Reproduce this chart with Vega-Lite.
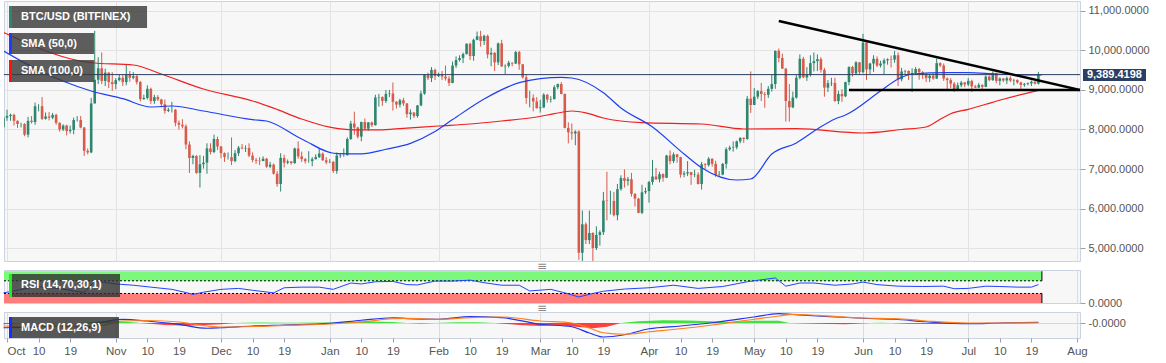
{
"$schema":"https://vega.github.io/schema/vega-lite/v6.json",
"background":"#ffffff",
"padding":0,
"spacing":9,
"bounds":"flush",
"config":{
 "view":{"stroke":"#cbd2e2","fill":"#f7f7f7"},
 "axis":{"labelFont":"Liberation Sans","labelFontSize":11,"labelColor":"#555555","gridColor":"#e3e3e3","tickColor":"#9aa0aa","domain":false,"titleOpacity":0,"titleFontSize":1,"titlePadding":0,"labelOverlap":false}
},
"datasets":{
"ohlc":[
{"d":"2019-09-30","o":8060,"h":8330,"l":7720,"c":8300},
{"d":"2019-10-01","o":8300,"h":8500,"l":8220,"c":8340},
{"d":"2019-10-02","o":8340,"h":8400,"l":8220,"c":8370},
{"d":"2019-10-03","o":8370,"h":8400,"l":8100,"c":8220},
{"d":"2019-10-04","o":8220,"h":8230,"l":8040,"c":8140},
{"d":"2019-10-05","o":8140,"h":8170,"l":8050,"c":8140},
{"d":"2019-10-06","o":8140,"h":8160,"l":7830,"c":7870},
{"d":"2019-10-07","o":7870,"h":8320,"l":7800,"c":8220},
{"d":"2019-10-08","o":8220,"h":8340,"l":8150,"c":8190},
{"d":"2019-10-09","o":8190,"h":8680,"l":8120,"c":8590},
{"d":"2019-10-10","o":8590,"h":8640,"l":8460,"c":8590},
{"d":"2019-10-11","o":8590,"h":8820,"l":8240,"c":8270},
{"d":"2019-10-12","o":8270,"h":8430,"l":8250,"c":8330},
{"d":"2019-10-13","o":8330,"h":8440,"l":8230,"c":8300},
{"d":"2019-10-14","o":8300,"h":8420,"l":8260,"c":8370},
{"d":"2019-10-15","o":8370,"h":8400,"l":8120,"c":8170},
{"d":"2019-10-16","o":8170,"h":8180,"l":7950,"c":8000},
{"d":"2019-10-17","o":8000,"h":8130,"l":7960,"c":8100},
{"d":"2019-10-18","o":8100,"h":8120,"l":7850,"c":7960},
{"d":"2019-10-19","o":7960,"h":8100,"l":7900,"c":7990},
{"d":"2019-10-20","o":7990,"h":8300,"l":7880,"c":8240},
{"d":"2019-10-21","o":8240,"h":8340,"l":8200,"c":8240},
{"d":"2019-10-22","o":8240,"h":8340,"l":8030,"c":8050},
{"d":"2019-10-23","o":8050,"h":8060,"l":7330,"c":7460},
{"d":"2019-10-24","o":7460,"h":7520,"l":7370,"c":7420},
{"d":"2019-10-25","o":7420,"h":8800,"l":7400,"c":8660},
{"d":"2019-10-26","o":8660,"h":10500,"l":8660,"c":9260},
{"d":"2019-10-27","o":9260,"h":9830,"l":9150,"c":9550},
{"d":"2019-10-28","o":9550,"h":9950,"l":9150,"c":9230},
{"d":"2019-10-29","o":9230,"h":9540,"l":9100,"c":9440},
{"d":"2019-10-30","o":9440,"h":9450,"l":9050,"c":9200},
{"d":"2019-10-31","o":9200,"h":9450,"l":8980,"c":9150},
{"d":"2019-11-01","o":9150,"h":9300,"l":9020,"c":9250},
{"d":"2019-11-02","o":9250,"h":9400,"l":9220,"c":9310},
{"d":"2019-11-03","o":9310,"h":9380,"l":9100,"c":9200},
{"d":"2019-11-04","o":9200,"h":9660,"l":9120,"c":9400},
{"d":"2019-11-05","o":9400,"h":9480,"l":9210,"c":9310},
{"d":"2019-11-06","o":9310,"h":9450,"l":9270,"c":9350},
{"d":"2019-11-07","o":9350,"h":9380,"l":9140,"c":9200},
{"d":"2019-11-08","o":9200,"h":9230,"l":8710,"c":8770},
{"d":"2019-11-09","o":8770,"h":8880,"l":8750,"c":8800},
{"d":"2019-11-10","o":8800,"h":9120,"l":8760,"c":9030},
{"d":"2019-11-11","o":9030,"h":9060,"l":8650,"c":8720},
{"d":"2019-11-12","o":8720,"h":8880,"l":8650,"c":8820},
{"d":"2019-11-13","o":8820,"h":8870,"l":8720,"c":8760},
{"d":"2019-11-14","o":8760,"h":8780,"l":8560,"c":8640},
{"d":"2019-11-15","o":8640,"h":8760,"l":8400,"c":8470},
{"d":"2019-11-16","o":8470,"h":8550,"l":8440,"c":8500},
{"d":"2019-11-17","o":8500,"h":8700,"l":8430,"c":8500},
{"d":"2019-11-18","o":8500,"h":8520,"l":8080,"c":8170},
{"d":"2019-11-19","o":8170,"h":8230,"l":8000,"c":8120},
{"d":"2019-11-20","o":8120,"h":8260,"l":8030,"c":8080},
{"d":"2019-11-21","o":8080,"h":8130,"l":7500,"c":7620},
{"d":"2019-11-22","o":7620,"h":7700,"l":6900,"c":7280},
{"d":"2019-11-23","o":7280,"h":7360,"l":7120,"c":7330},
{"d":"2019-11-24","o":7330,"h":7350,"l":6880,"c":6900},
{"d":"2019-11-25","o":6900,"h":7350,"l":6530,"c":7120},
{"d":"2019-11-26","o":7120,"h":7330,"l":7010,"c":7160},
{"d":"2019-11-27","o":7160,"h":7650,"l":6880,"c":7520},
{"d":"2019-11-28","o":7520,"h":7650,"l":7370,"c":7430},
{"d":"2019-11-29","o":7430,"h":7870,"l":7400,"c":7760},
{"d":"2019-11-30","o":7760,"h":7820,"l":7480,"c":7570},
{"d":"2019-12-01","o":7570,"h":7580,"l":7270,"c":7400},
{"d":"2019-12-02","o":7400,"h":7420,"l":7180,"c":7300},
{"d":"2019-12-03","o":7300,"h":7420,"l":7240,"c":7300},
{"d":"2019-12-04","o":7300,"h":7800,"l":7100,"c":7200},
{"d":"2019-12-05","o":7200,"h":7480,"l":7170,"c":7400},
{"d":"2019-12-06","o":7400,"h":7580,"l":7330,"c":7540},
{"d":"2019-12-07","o":7540,"h":7630,"l":7500,"c":7520},
{"d":"2019-12-08","o":7520,"h":7600,"l":7430,"c":7530},
{"d":"2019-12-09","o":7530,"h":7650,"l":7300,"c":7340},
{"d":"2019-12-10","o":7340,"h":7420,"l":7170,"c":7230},
{"d":"2019-12-11","o":7230,"h":7280,"l":7130,"c":7210},
{"d":"2019-12-12","o":7210,"h":7300,"l":7100,"c":7200},
{"d":"2019-12-13","o":7200,"h":7320,"l":7200,"c":7260},
{"d":"2019-12-14","o":7260,"h":7280,"l":7030,"c":7060},
{"d":"2019-12-15","o":7060,"h":7180,"l":7020,"c":7110},
{"d":"2019-12-16","o":7110,"h":7140,"l":6860,"c":6880},
{"d":"2019-12-17","o":6880,"h":6950,"l":6550,"c":6620},
{"d":"2019-12-18","o":6620,"h":7400,"l":6430,"c":7280},
{"d":"2019-12-19","o":7280,"h":7360,"l":7040,"c":7160},
{"d":"2019-12-20","o":7160,"h":7240,"l":7120,"c":7190},
{"d":"2019-12-21","o":7190,"h":7200,"l":7110,"c":7150},
{"d":"2019-12-22","o":7150,"h":7540,"l":7130,"c":7520},
{"d":"2019-12-23","o":7520,"h":7700,"l":7260,"c":7320},
{"d":"2019-12-24","o":7320,"h":7440,"l":7180,"c":7250},
{"d":"2019-12-25","o":7250,"h":7280,"l":7140,"c":7200},
{"d":"2019-12-26","o":7200,"h":7450,"l":7160,"c":7200},
{"d":"2019-12-27","o":7200,"h":7300,"l":7070,"c":7250},
{"d":"2019-12-28","o":7250,"h":7370,"l":7240,"c":7300},
{"d":"2019-12-29","o":7300,"h":7530,"l":7280,"c":7390},
{"d":"2019-12-30","o":7390,"h":7420,"l":7210,"c":7220},
{"d":"2019-12-31","o":7220,"h":7300,"l":7120,"c":7170},
{"d":"2020-01-01","o":7170,"h":7250,"l":7150,"c":7180},
{"d":"2020-01-02","o":7180,"h":7200,"l":6900,"c":6950},
{"d":"2020-01-03","o":6950,"h":7420,"l":6880,"c":7340},
{"d":"2020-01-04","o":7340,"h":7400,"l":7280,"c":7350},
{"d":"2020-01-05","o":7350,"h":7520,"l":7310,"c":7350},
{"d":"2020-01-06","o":7350,"h":7800,"l":7340,"c":7760},
{"d":"2020-01-07","o":7760,"h":8220,"l":7730,"c":8150},
{"d":"2020-01-08","o":8150,"h":8450,"l":7870,"c":8050},
{"d":"2020-01-09","o":8050,"h":8070,"l":7770,"c":7820},
{"d":"2020-01-10","o":7820,"h":8200,"l":7700,"c":8190},
{"d":"2020-01-11","o":8190,"h":8280,"l":7990,"c":8020},
{"d":"2020-01-12","o":8020,"h":8190,"l":7970,"c":8180},
{"d":"2020-01-13","o":8180,"h":8200,"l":8060,"c":8110},
{"d":"2020-01-14","o":8110,"h":8880,"l":8100,"c":8810},
{"d":"2020-01-15","o":8810,"h":8900,"l":8580,"c":8820},
{"d":"2020-01-16","o":8820,"h":8840,"l":8600,"c":8720},
{"d":"2020-01-17","o":8720,"h":9000,"l":8670,"c":8900},
{"d":"2020-01-18","o":8900,"h":9000,"l":8820,"c":8910},
{"d":"2020-01-19","o":8910,"h":9190,"l":8480,"c":8700},
{"d":"2020-01-20","o":8700,"h":8720,"l":8530,"c":8630},
{"d":"2020-01-21","o":8630,"h":8780,"l":8560,"c":8740},
{"d":"2020-01-22","o":8740,"h":8800,"l":8600,"c":8660},
{"d":"2020-01-23","o":8660,"h":8670,"l":8300,"c":8390},
{"d":"2020-01-24","o":8390,"h":8510,"l":8250,"c":8430},
{"d":"2020-01-25","o":8430,"h":8440,"l":8290,"c":8340},
{"d":"2020-01-26","o":8340,"h":8620,"l":8300,"c":8610},
{"d":"2020-01-27","o":8610,"h":8980,"l":8590,"c":8910},
{"d":"2020-01-28","o":8910,"h":9400,"l":8880,"c":9380},
{"d":"2020-01-29","o":9380,"h":9440,"l":9250,"c":9300},
{"d":"2020-01-30","o":9300,"h":9580,"l":9200,"c":9510},
{"d":"2020-01-31","o":9510,"h":9540,"l":9250,"c":9350},
{"d":"2020-02-01","o":9350,"h":9440,"l":9330,"c":9390},
{"d":"2020-02-02","o":9390,"h":9480,"l":9250,"c":9340},
{"d":"2020-02-03","o":9340,"h":9620,"l":9240,"c":9290},
{"d":"2020-02-04","o":9290,"h":9350,"l":9100,"c":9180},
{"d":"2020-02-05","o":9180,"h":9720,"l":9170,"c":9620},
{"d":"2020-02-06","o":9620,"h":9850,"l":9560,"c":9760},
{"d":"2020-02-07","o":9760,"h":9880,"l":9720,"c":9810},
{"d":"2020-02-08","o":9810,"h":9950,"l":9680,"c":9910},
{"d":"2020-02-09","o":9910,"h":10180,"l":9900,"c":10170},
{"d":"2020-02-10","o":10170,"h":10200,"l":9760,"c":9860},
{"d":"2020-02-11","o":9860,"h":10300,"l":9740,"c":10270},
{"d":"2020-02-12","o":10270,"h":10480,"l":10260,"c":10360},
{"d":"2020-02-13","o":10360,"h":10500,"l":10100,"c":10240},
{"d":"2020-02-14","o":10240,"h":10400,"l":10140,"c":10370},
{"d":"2020-02-15","o":10370,"h":10400,"l":9800,"c":9900},
{"d":"2020-02-16","o":9900,"h":10070,"l":9600,"c":9940},
{"d":"2020-02-17","o":9940,"h":9960,"l":9480,"c":9700},
{"d":"2020-02-18","o":9700,"h":10200,"l":9630,"c":10180},
{"d":"2020-02-19","o":10180,"h":10270,"l":9580,"c":9600},
{"d":"2020-02-20","o":9600,"h":9650,"l":9400,"c":9610},
{"d":"2020-02-21","o":9610,"h":9740,"l":9570,"c":9690},
{"d":"2020-02-22","o":9690,"h":9700,"l":9600,"c":9670},
{"d":"2020-02-23","o":9670,"h":9990,"l":9660,"c":9960},
{"d":"2020-02-24","o":9960,"h":9990,"l":9510,"c":9650},
{"d":"2020-02-25","o":9650,"h":9660,"l":9290,"c":9320},
{"d":"2020-02-26","o":9320,"h":9380,"l":8650,"c":8800},
{"d":"2020-02-27","o":8800,"h":8980,"l":8560,"c":8800},
{"d":"2020-02-28","o":8800,"h":8890,"l":8460,"c":8710},
{"d":"2020-02-29","o":8710,"h":8820,"l":8530,"c":8540},
{"d":"2020-03-01","o":8540,"h":8750,"l":8430,"c":8560},
{"d":"2020-03-02","o":8560,"h":8920,"l":8540,"c":8880},
{"d":"2020-03-03","o":8880,"h":8900,"l":8680,"c":8760},
{"d":"2020-03-04","o":8760,"h":8840,"l":8680,"c":8770},
{"d":"2020-03-05","o":8770,"h":9120,"l":8760,"c":9070},
{"d":"2020-03-06","o":9070,"h":9160,"l":9020,"c":9150},
{"d":"2020-03-07","o":9150,"h":9200,"l":8890,"c":8900},
{"d":"2020-03-08","o":8900,"h":8910,"l":8030,"c":8040},
{"d":"2020-03-09","o":8040,"h":8180,"l":7650,"c":7930},
{"d":"2020-03-10","o":7930,"h":8150,"l":7740,"c":7900},
{"d":"2020-03-11","o":7900,"h":7980,"l":7600,"c":7950},
{"d":"2020-03-12","o":7950,"h":7980,"l":4700,"c":4880},
{"d":"2020-03-13","o":4880,"h":5950,"l":3900,"c":5600},
{"d":"2020-03-14","o":5600,"h":5650,"l":5100,"c":5200},
{"d":"2020-03-15","o":5200,"h":5950,"l":5100,"c":5380},
{"d":"2020-03-16","o":5380,"h":5400,"l":4450,"c":5000},
{"d":"2020-03-17","o":5000,"h":5550,"l":4950,"c":5330},
{"d":"2020-03-18","o":5330,"h":5450,"l":5060,"c":5400},
{"d":"2020-03-19","o":5400,"h":6420,"l":5330,"c":6200},
{"d":"2020-03-20","o":6200,"h":6930,"l":5700,"c":6190},
{"d":"2020-03-21","o":6190,"h":6450,"l":5850,"c":6190},
{"d":"2020-03-22","o":6190,"h":6420,"l":5800,"c":5830},
{"d":"2020-03-23","o":5830,"h":6620,"l":5700,"c":6490},
{"d":"2020-03-24","o":6490,"h":6840,"l":6450,"c":6770},
{"d":"2020-03-25","o":6770,"h":6990,"l":6530,"c":6700},
{"d":"2020-03-26","o":6700,"h":6800,"l":6580,"c":6740},
{"d":"2020-03-27","o":6740,"h":6900,"l":6300,"c":6370},
{"d":"2020-03-28","o":6370,"h":6390,"l":6050,"c":6250},
{"d":"2020-03-29","o":6250,"h":6270,"l":5880,"c":5890},
{"d":"2020-03-30","o":5890,"h":6600,"l":5860,"c":6410},
{"d":"2020-03-31","o":6410,"h":6530,"l":6370,"c":6440},
{"d":"2020-04-01","o":6440,"h":6700,"l":6150,"c":6670},
{"d":"2020-04-02","o":6670,"h":7230,"l":6600,"c":6810},
{"d":"2020-04-03","o":6810,"h":7030,"l":6720,"c":6740},
{"d":"2020-04-04","o":6740,"h":6930,"l":6660,"c":6870},
{"d":"2020-04-05","o":6870,"h":6890,"l":6680,"c":6780},
{"d":"2020-04-06","o":6780,"h":7360,"l":6770,"c":7340},
{"d":"2020-04-07","o":7340,"h":7470,"l":7120,"c":7200},
{"d":"2020-04-08","o":7200,"h":7420,"l":7150,"c":7370},
{"d":"2020-04-09","o":7370,"h":7380,"l":7160,"c":7300},
{"d":"2020-04-10","o":7300,"h":7310,"l":6780,"c":6860},
{"d":"2020-04-11","o":6860,"h":6950,"l":6790,"c":6890},
{"d":"2020-04-12","o":6890,"h":7200,"l":6820,"c":6920},
{"d":"2020-04-13","o":6920,"h":6930,"l":6600,"c":6850},
{"d":"2020-04-14","o":6850,"h":6980,"l":6790,"c":6860},
{"d":"2020-04-15","o":6860,"h":6920,"l":6610,"c":6620},
{"d":"2020-04-16","o":6620,"h":7180,"l":6480,"c":7120},
{"d":"2020-04-17","o":7120,"h":7150,"l":7000,"c":7100},
{"d":"2020-04-18","o":7100,"h":7300,"l":7060,"c":7260},
{"d":"2020-04-19","o":7260,"h":7270,"l":7060,"c":7130},
{"d":"2020-04-20","o":7130,"h":7210,"l":6800,"c":6850},
{"d":"2020-04-21","o":6850,"h":6950,"l":6800,"c":6860},
{"d":"2020-04-22","o":6860,"h":7150,"l":6840,"c":7130},
{"d":"2020-04-23","o":7130,"h":7550,"l":7010,"c":7500},
{"d":"2020-04-24","o":7500,"h":7590,"l":7460,"c":7540},
{"d":"2020-04-25","o":7540,"h":7700,"l":7440,"c":7550},
{"d":"2020-04-26","o":7550,"h":7720,"l":7500,"c":7700},
{"d":"2020-04-27","o":7700,"h":7800,"l":7650,"c":7790},
{"d":"2020-04-28","o":7790,"h":7800,"l":7660,"c":7760},
{"d":"2020-04-29","o":7760,"h":8850,"l":7740,"c":8780},
{"d":"2020-04-30","o":8780,"h":9470,"l":8420,"c":8620},
{"d":"2020-05-01","o":8620,"h":9050,"l":8620,"c":8830},
{"d":"2020-05-02","o":8830,"h":9000,"l":8770,"c":8970},
{"d":"2020-05-03","o":8970,"h":9180,"l":8720,"c":8900},
{"d":"2020-05-04","o":8900,"h":8950,"l":8550,"c":8880},
{"d":"2020-05-05","o":8880,"h":9100,"l":8800,"c":9030},
{"d":"2020-05-06","o":9030,"h":9380,"l":8960,"c":9150},
{"d":"2020-05-07","o":9150,"h":10000,"l":9030,"c":9990},
{"d":"2020-05-08","o":9990,"h":10050,"l":9700,"c":9810},
{"d":"2020-05-09","o":9810,"h":9920,"l":9540,"c":9540},
{"d":"2020-05-10","o":9540,"h":9560,"l":8200,"c":8720},
{"d":"2020-05-11","o":8720,"h":9150,"l":8200,"c":8560},
{"d":"2020-05-12","o":8560,"h":8960,"l":8540,"c":8810},
{"d":"2020-05-13","o":8810,"h":9380,"l":8780,"c":9310},
{"d":"2020-05-14","o":9310,"h":9900,"l":9270,"c":9790},
{"d":"2020-05-15","o":9790,"h":9840,"l":9300,"c":9320},
{"d":"2020-05-16","o":9320,"h":9580,"l":9230,"c":9380},
{"d":"2020-05-17","o":9380,"h":9880,"l":9340,"c":9680},
{"d":"2020-05-18","o":9680,"h":9950,"l":9470,"c":9730},
{"d":"2020-05-19","o":9730,"h":9900,"l":9480,"c":9780},
{"d":"2020-05-20","o":9780,"h":9830,"l":9440,"c":9510},
{"d":"2020-05-21","o":9510,"h":9560,"l":8830,"c":9060},
{"d":"2020-05-22","o":9060,"h":9250,"l":8950,"c":9170},
{"d":"2020-05-23","o":9170,"h":9310,"l":9100,"c":9180},
{"d":"2020-05-24","o":9180,"h":9310,"l":8700,"c":8720},
{"d":"2020-05-25","o":8720,"h":8980,"l":8640,"c":8900},
{"d":"2020-05-26","o":8900,"h":9020,"l":8700,"c":8840},
{"d":"2020-05-27","o":8840,"h":9210,"l":8820,"c":9200},
{"d":"2020-05-28","o":9200,"h":9600,"l":9120,"c":9580},
{"d":"2020-05-29","o":9580,"h":9610,"l":9340,"c":9420},
{"d":"2020-05-30","o":9420,"h":9730,"l":9380,"c":9700},
{"d":"2020-05-31","o":9700,"h":9710,"l":9380,"c":9450},
{"d":"2020-06-01","o":9450,"h":10420,"l":9420,"c":10200},
{"d":"2020-06-02","o":10200,"h":10240,"l":9250,"c":9520},
{"d":"2020-06-03","o":9520,"h":9690,"l":9400,"c":9670},
{"d":"2020-06-04","o":9670,"h":9880,"l":9460,"c":9790},
{"d":"2020-06-05","o":9790,"h":9850,"l":9580,"c":9620},
{"d":"2020-06-06","o":9620,"h":9740,"l":9570,"c":9670},
{"d":"2020-06-07","o":9670,"h":9800,"l":9400,"c":9750},
{"d":"2020-06-08","o":9750,"h":9800,"l":9640,"c":9780},
{"d":"2020-06-09","o":9780,"h":9870,"l":9570,"c":9770},
{"d":"2020-06-10","o":9770,"h":9990,"l":9690,"c":9880},
{"d":"2020-06-11","o":9880,"h":9950,"l":9100,"c":9270},
{"d":"2020-06-12","o":9270,"h":9560,"l":9220,"c":9470},
{"d":"2020-06-13","o":9470,"h":9510,"l":9380,"c":9480},
{"d":"2020-06-14","o":9480,"h":9500,"l":9250,"c":9390},
{"d":"2020-06-15","o":9390,"h":9550,"l":8950,"c":9430},
{"d":"2020-06-16","o":9430,"h":9580,"l":9380,"c":9530},
{"d":"2020-06-17","o":9530,"h":9560,"l":9260,"c":9450},
{"d":"2020-06-18","o":9450,"h":9480,"l":9280,"c":9380},
{"d":"2020-06-19","o":9380,"h":9430,"l":9200,"c":9300},
{"d":"2020-06-20","o":9300,"h":9400,"l":9200,"c":9360},
{"d":"2020-06-21","o":9360,"h":9420,"l":9260,"c":9290},
{"d":"2020-06-22","o":9290,"h":9800,"l":9280,"c":9680},
{"d":"2020-06-23","o":9680,"h":9700,"l":9580,"c":9620},
{"d":"2020-06-24","o":9620,"h":9670,"l":9230,"c":9290},
{"d":"2020-06-25","o":9290,"h":9320,"l":9000,"c":9250},
{"d":"2020-06-26","o":9250,"h":9300,"l":9050,"c":9160},
{"d":"2020-06-27","o":9160,"h":9200,"l":8950,"c":9010},
{"d":"2020-06-28","o":9010,"h":9190,"l":9000,"c":9120},
{"d":"2020-06-29","o":9120,"h":9230,"l":9070,"c":9190},
{"d":"2020-06-30","o":9190,"h":9200,"l":9070,"c":9140},
{"d":"2020-07-01","o":9140,"h":9300,"l":9100,"c":9230},
{"d":"2020-07-02","o":9230,"h":9260,"l":8950,"c":9090},
{"d":"2020-07-03","o":9090,"h":9130,"l":9050,"c":9060},
{"d":"2020-07-04","o":9060,"h":9180,"l":9050,"c":9130},
{"d":"2020-07-05","o":9130,"h":9140,"l":8970,"c":9080},
{"d":"2020-07-06","o":9080,"h":9370,"l":9070,"c":9340},
{"d":"2020-07-07","o":9340,"h":9370,"l":9220,"c":9250},
{"d":"2020-07-08","o":9250,"h":9470,"l":9230,"c":9430},
{"d":"2020-07-09","o":9430,"h":9440,"l":9170,"c":9230},
{"d":"2020-07-10","o":9230,"h":9320,"l":9120,"c":9290},
{"d":"2020-07-11","o":9290,"h":9300,"l":9200,"c":9240},
{"d":"2020-07-12","o":9240,"h":9340,"l":9150,"c":9300},
{"d":"2020-07-13","o":9300,"h":9350,"l":9200,"c":9240},
{"d":"2020-07-14","o":9240,"h":9280,"l":9120,"c":9250},
{"d":"2020-07-15","o":9250,"h":9270,"l":9160,"c":9190},
{"d":"2020-07-16","o":9190,"h":9210,"l":9000,"c":9130},
{"d":"2020-07-17","o":9130,"h":9180,"l":9080,"c":9150},
{"d":"2020-07-18","o":9150,"h":9190,"l":9120,"c":9170},
{"d":"2020-07-19","o":9170,"h":9240,"l":9100,"c":9210},
{"d":"2020-07-20","o":9210,"h":9220,"l":9140,"c":9160},
{"d":"2020-07-21","o":9160,"h":9460,"l":9140,"c":9390}
],
"sma50":[
{"d":"2019-09-30","v":9987},{"d":"2019-10-10","v":9500},{"d":"2019-10-25","v":8975},{"d":"2019-11-03","v":8780},
{"d":"2019-11-11","v":8570},{"d":"2019-11-17","v":8595},{"d":"2019-11-26","v":8468},{"d":"2019-12-10","v":8250},
{"d":"2019-12-14","v":8215},{"d":"2019-12-24","v":7760},{"d":"2020-01-03","v":7387},{"d":"2020-01-10","v":7385},
{"d":"2020-01-17","v":7500},{"d":"2020-01-24","v":7650},{"d":"2020-01-31","v":7950},{"d":"2020-02-05","v":8250},
{"d":"2020-02-14","v":8772},{"d":"2020-02-24","v":9185},{"d":"2020-03-01","v":9290},{"d":"2020-03-07","v":9320},
{"d":"2020-03-10","v":9304},{"d":"2020-03-19","v":8932},{"d":"2020-03-24","v":8544},{"d":"2020-04-02","v":8063},
{"d":"2020-04-11","v":7380},{"d":"2020-04-16","v":7033},{"d":"2020-04-26","v":6722},{"d":"2020-04-30","v":6747},
{"d":"2020-05-06","v":7380},{"d":"2020-05-13","v":7660},{"d":"2020-05-19","v":8013},{"d":"2020-05-24","v":8266},
{"d":"2020-05-27","v":8367},{"d":"2020-06-06","v":8975},{"d":"2020-06-11","v":9278},{"d":"2020-06-15","v":9405},
{"d":"2020-06-25","v":9438},{"d":"2020-07-01","v":9438},{"d":"2020-07-09","v":9405},{"d":"2020-07-22","v":9380}
],
"sma100":[
{"d":"2019-09-30","v":10460},{"d":"2019-10-25","v":9690},{"d":"2019-11-06","v":9633},{"d":"2019-11-14","v":9405},
{"d":"2019-11-26","v":9025},{"d":"2019-12-10","v":8722},{"d":"2019-12-16","v":8540},{"d":"2019-12-24","v":8266},
{"d":"2020-01-01","v":8060},{"d":"2020-01-08","v":7990},{"d":"2020-01-15","v":7990},{"d":"2020-01-22","v":8030},
{"d":"2020-02-01","v":8089},{"d":"2020-02-10","v":8139},{"d":"2020-02-19","v":8215},{"d":"2020-02-29","v":8316},
{"d":"2020-03-05","v":8400},{"d":"2020-03-10","v":8468},{"d":"2020-03-14","v":8420},{"d":"2020-03-19","v":8291},
{"d":"2020-03-30","v":8173},{"d":"2020-04-16","v":8139},{"d":"2020-04-28","v":8013},{"d":"2020-05-13","v":8020},
{"d":"2020-06-01","v":7911},{"d":"2020-06-12","v":8000},{"d":"2020-06-19","v":8063},{"d":"2020-06-23","v":8258},
{"d":"2020-06-26","v":8400},{"d":"2020-07-01","v":8511},{"d":"2020-07-06","v":8638},{"d":"2020-07-11","v":8765},
{"d":"2020-07-21","v":8992}
],
"tri":[
{"d":"2020-05-08","v":10747,"g":"a"},{"d":"2020-08-02","v":8997,"g":"a"},
{"d":"2020-05-28","v":9000,"g":"b"},{"d":"2020-08-02","v":9000,"g":"b"}
],
"rsi":[
{"d":"2019-09-30","v":32},{"d":"2019-10-04","v":40},{"d":"2019-10-09","v":52},{"d":"2019-10-14","v":48},
{"d":"2019-10-18","v":42},{"d":"2019-10-23","v":33},{"d":"2019-10-26","v":68},{"d":"2019-10-29","v":65},
{"d":"2019-11-01","v":60},{"d":"2019-11-06","v":56},{"d":"2019-11-11","v":50},{"d":"2019-11-17","v":43},
{"d":"2019-11-21","v":33},{"d":"2019-11-23","v":27},{"d":"2019-11-26","v":34},{"d":"2019-12-01","v":43},
{"d":"2019-12-06","v":46},{"d":"2019-12-10","v":40},{"d":"2019-12-16","v":32},{"d":"2019-12-19","v":48},
{"d":"2019-12-24","v":50},{"d":"2019-12-29","v":50},{"d":"2020-01-02","v":43},{"d":"2020-01-07","v":63},
{"d":"2020-01-10","v":60},{"d":"2020-01-14","v":67},{"d":"2020-01-19","v":68},{"d":"2020-01-23","v":58},
{"d":"2020-01-26","v":57},{"d":"2020-01-31","v":69},{"d":"2020-02-05","v":69},{"d":"2020-02-10","v":72},
{"d":"2020-02-14","v":64},{"d":"2020-02-19","v":56},{"d":"2020-02-24","v":56},{"d":"2020-02-27","v":38},
{"d":"2020-03-04","v":43},{"d":"2020-03-08","v":32},{"d":"2020-03-12","v":19},{"d":"2020-03-16","v":30},
{"d":"2020-03-19","v":37},{"d":"2020-03-25","v":44},{"d":"2020-04-01","v":48},{"d":"2020-04-08","v":56},
{"d":"2020-04-15","v":46},{"d":"2020-04-22","v":52},{"d":"2020-04-29","v":67},{"d":"2020-05-07","v":79},
{"d":"2020-05-10","v":53},{"d":"2020-05-14","v":63},{"d":"2020-05-18","v":63},{"d":"2020-05-24","v":56},
{"d":"2020-05-29","v":60},{"d":"2020-06-01","v":66},{"d":"2020-06-05","v":58},{"d":"2020-06-11","v":53},
{"d":"2020-06-18","v":52},{"d":"2020-06-24","v":53},{"d":"2020-06-27","v":45},{"d":"2020-07-01","v":46},
{"d":"2020-07-06","v":53},{"d":"2020-07-10","v":52},{"d":"2020-07-15","v":50},{"d":"2020-07-19","v":50},
{"d":"2020-07-21","v":58}
],
"macd":[
{"d":"2019-09-30","m":-190,"s":-120},{"d":"2019-10-06","m":-170,"s":-150},{"d":"2019-10-13","m":-120,"s":-140},
{"d":"2019-10-20","m":-140,"s":-135},{"d":"2019-10-24","m":-170,"s":-145},{"d":"2019-10-28","m":20,"s":-100},
{"d":"2019-11-03","m":145,"s":80},{"d":"2019-11-10","m":80,"s":100},{"d":"2019-11-19","m":-55,"s":40},
{"d":"2019-11-27","m":-210,"s":-120},{"d":"2019-12-01","m":-190,"s":-160},{"d":"2019-12-10","m":-120,"s":-140},
{"d":"2019-12-19","m":-80,"s":-95},{"d":"2020-01-01","m":-15,"s":-40},{"d":"2020-01-10","m":110,"s":40},
{"d":"2020-01-19","m":210,"s":170},{"d":"2020-01-23","m":175,"s":185},{"d":"2020-02-01","m":150,"s":150},
{"d":"2020-02-10","m":255,"s":215},{"d":"2020-02-19","m":215,"s":240},{"d":"2020-03-01","m":-50,"s":80},
{"d":"2020-03-10","m":-150,"s":0},{"d":"2020-03-15","m":-400,"s":-200},{"d":"2020-03-19","m":-560,"s":-390},
{"d":"2020-03-25","m":-470,"s":-450},{"d":"2020-04-01","m":-230,"s":-350},{"d":"2020-04-10","m":-120,"s":-230},
{"d":"2020-04-19","m":10,"s":-80},{"d":"2020-05-01","m":240,"s":150},{"d":"2020-05-08","m":375,"s":280},
{"d":"2020-05-12","m":340,"s":345},{"d":"2020-05-19","m":280,"s":305},{"d":"2020-06-01","m":190,"s":200},
{"d":"2020-06-10","m":150,"s":175},{"d":"2020-06-19","m":50,"s":80},{"d":"2020-07-01","m":-30,"s":0},
{"d":"2020-07-10","m":0,"s":0},{"d":"2020-07-21","m":25,"s":10}
],
"hist":[
{"d":"2019-09-30","h":-50},{"d":"2019-10-05","h":0},{"d":"2019-10-22","h":0},{"d":"2019-10-28","h":90},
{"d":"2019-11-04","h":50},{"d":"2019-11-08","h":0},{"d":"2019-11-15","h":-80},{"d":"2019-11-22","h":-110},
{"d":"2019-12-01","h":-50},{"d":"2019-12-05","h":0},{"d":"2019-12-12","h":20},{"d":"2019-12-20","h":15},
{"d":"2020-01-01","h":25},{"d":"2020-01-10","h":70},{"d":"2020-01-19","h":40},{"d":"2020-01-23","h":0},
{"d":"2020-01-27","h":-20},{"d":"2020-01-31","h":0},{"d":"2020-02-06","h":30},{"d":"2020-02-12","h":35},
{"d":"2020-02-17","h":0},{"d":"2020-02-24","h":-80},{"d":"2020-03-01","h":-120},{"d":"2020-03-06","h":-90},
{"d":"2020-03-12","h":-160},{"d":"2020-03-16","h":-210},{"d":"2020-03-20","h":-150},{"d":"2020-03-24","h":0},
{"d":"2020-03-29","h":70},{"d":"2020-04-05","h":110},{"d":"2020-04-12","h":100},{"d":"2020-04-19","h":70},
{"d":"2020-04-24","h":40},{"d":"2020-05-01","h":90},{"d":"2020-05-08","h":90},{"d":"2020-05-11","h":0},
{"d":"2020-05-19","h":-25},{"d":"2020-05-27","h":-50},{"d":"2020-06-03","h":0},{"d":"2020-06-06","h":15},
{"d":"2020-06-09","h":0},{"d":"2020-06-14","h":-25},{"d":"2020-06-22","h":-35},{"d":"2020-07-01","h":-25},
{"d":"2020-07-08","h":0},{"d":"2020-07-21","h":12}
]
},
"vconcat":[
{
 "width":1076,"height":260,
 "data":{"values":[{}]},
 "layer":[
  {"data":{"name":"ohlc"},
   "mark":{"type":"rule","strokeWidth":1,"clip":true},
   "encoding":{
    "x":{"field":"d","type":"temporal","title":null,
     "scale":{"type":"utc","domain":[{"year":2019,"month":9,"date":30,"hours":3,"minutes":28,"utc":true},{"year":2020,"month":8,"date":1,"hours":20,"minutes":31,"utc":true}],"nice":false,"padding":0},
     "axis":{"title":null,"tickCount":60,"values":[{"year":2019,"month":10,"date":1,"utc":true},{"year":2019,"month":11,"date":1,"utc":true},{"year":2019,"month":12,"date":1,"utc":true},{"year":2020,"month":1,"date":1,"utc":true},{"year":2020,"month":2,"date":1,"utc":true},{"year":2020,"month":3,"date":1,"utc":true},{"year":2020,"month":4,"date":1,"utc":true},{"year":2020,"month":5,"date":1,"utc":true},{"year":2020,"month":6,"date":1,"utc":true},{"year":2020,"month":7,"date":1,"utc":true},{"year":2020,"month":8,"date":1,"utc":true}],"labels":false,"ticks":false,"grid":true}},
    "y":{"field":"l","type":"quantitative","title":null,
     "scale":{"domain":[4671,11253],"nice":false,"zero":false,"padding":0},
     "axis":{"title":null,"tickCount":20,"orient":"right","values":[5000,6000,7000,8000,9000,10000,11000],"format":",.4f","tickSize":5,"labelPadding":3,"grid":true}},
    "y2":{"field":"h"},
    "color":{"condition":{"test":"datum.c >= datum.o","value":"#2e866e"},"value":"#d85a4a"}
   }},
  {"data":{"name":"ohlc"},
   "mark":{"type":"bar","width":2.6,"clip":true},
   "encoding":{
    "x":{"field":"d","type":"temporal","title":null},
    "y":{"field":"o","type":"quantitative","title":null},
    "y2":{"field":"c"},
    "color":{"condition":{"test":"datum.c >= datum.o","value":"#2e866e"},"value":"#d85a4a"}
   }},
  {"data":{"name":"sma100"},
   "mark":{"type":"line","color":"#ee2020","strokeWidth":1.2,"interpolate":"monotone","clip":true},
   "encoding":{"x":{"field":"d","type":"temporal","title":null},"y":{"field":"v","type":"quantitative","title":null}}},
  {"data":{"name":"sma50"},
   "mark":{"type":"line","color":"#2040f0","strokeWidth":1.2,"interpolate":"monotone","clip":true},
   "encoding":{"x":{"field":"d","type":"temporal","title":null},"y":{"field":"v","type":"quantitative","title":null}}},
  {"mark":{"type":"rule","color":"#2b3d5e","strokeWidth":1},
   "encoding":{"y":{"datum":9389.4198,"title":null}}},
  {"data":{"name":"tri"},
   "mark":{"type":"line","color":"#000000","strokeWidth":2.5,"clip":true},
   "encoding":{"x":{"field":"d","type":"temporal","title":null},"y":{"field":"v","type":"quantitative","title":null},"detail":{"field":"g"}}},
  {"mark":{"type":"rect","fill":"#3a3a3a","opacity":0.82},
   "encoding":{"x":{"datum":{"year":2019,"month":10,"date":1,"hours":14,"utc":true},"type":"temporal","title":null},"x2":{"datum":{"year":2019,"month":11,"date":9,"hours":22,"utc":true}},"y":{"datum":11126,"title":null},"y2":{"datum":10570}}},
  {"mark":{"type":"rect","fill":"#3a3a3a","opacity":0.82},
   "encoding":{"x":{"datum":{"year":2019,"month":10,"date":1,"hours":14,"utc":true},"type":"temporal","title":null},"x2":{"datum":{"year":2019,"month":10,"date":25,"hours":19,"utc":true}},"y":{"datum":10443,"title":null},"y2":{"datum":9911}}},
  {"mark":{"type":"rect","fill":"#3a3a3a","opacity":0.82},
   "encoding":{"x":{"datum":{"year":2019,"month":10,"date":1,"hours":14,"utc":true},"type":"temporal","title":null},"x2":{"datum":{"year":2019,"month":10,"date":25,"hours":19,"utc":true}},"y":{"datum":9759,"title":null},"y2":{"datum":9202}}},
  {"mark":{"type":"rect","fill":"#2e866e"},
   "encoding":{"x":{"datum":{"year":2019,"month":10,"date":1,"hours":14,"utc":true},"type":"temporal","title":null},"x2":{"datum":{"year":2019,"month":10,"date":2,"hours":10,"utc":true}},"y":{"datum":11126,"title":null},"y2":{"datum":10570}}},
  {"mark":{"type":"rect","fill":"#1c3cff"},
   "encoding":{"x":{"datum":{"year":2019,"month":10,"date":1,"hours":14,"utc":true},"type":"temporal","title":null},"x2":{"datum":{"year":2019,"month":10,"date":2,"hours":10,"utc":true}},"y":{"datum":10443,"title":null},"y2":{"datum":9911}}},
  {"mark":{"type":"rect","fill":"#ff1010"},
   "encoding":{"x":{"datum":{"year":2019,"month":10,"date":1,"hours":14,"utc":true},"type":"temporal","title":null},"x2":{"datum":{"year":2019,"month":10,"date":2,"hours":10,"utc":true}},"y":{"datum":9759,"title":null},"y2":{"datum":9202}}},
  {"mark":{"type":"text","align":"left","baseline":"middle","font":"Liberation Sans","fontSize":11,"fontWeight":"bold","fill":"#ffffff"},
   "encoding":{"x":{"datum":{"year":2019,"month":10,"date":5,"utc":true},"type":"temporal","title":null},"y":{"datum":10848,"title":null},"text":{"value":"BTC/USD (BITFINEX)"}}},
  {"mark":{"type":"text","align":"left","baseline":"middle","font":"Liberation Sans","fontSize":11,"fontWeight":"bold","fill":"#ffffff"},
   "encoding":{"x":{"datum":{"year":2019,"month":10,"date":5,"utc":true},"type":"temporal","title":null},"y":{"datum":10177,"title":null},"text":{"value":"SMA (50,0)"}}},
  {"mark":{"type":"text","align":"left","baseline":"middle","font":"Liberation Sans","fontSize":11,"fontWeight":"bold","fill":"#ffffff"},
   "encoding":{"x":{"datum":{"year":2019,"month":10,"date":5,"utc":true},"type":"temporal","title":null},"y":{"datum":9481,"title":null},"text":{"value":"SMA (100,0)"}}},
  {"mark":{"type":"rect","fill":"#2b3f62","clip":false},
   "encoding":{"x":{"datum":{"year":2020,"month":8,"date":2,"hours":17,"utc":true},"type":"temporal","title":null},"x2":{"datum":{"year":2020,"month":8,"date":20,"hours":16,"utc":true}},"y":{"datum":9532,"title":null},"y2":{"datum":9228}}},
  {"mark":{"type":"text","align":"center","baseline":"middle","font":"Liberation Sans","fontSize":11,"fontWeight":"bold","fill":"#ffffff","clip":false},
   "encoding":{"x":{"datum":{"year":2020,"month":8,"date":11,"hours":16,"utc":true},"type":"temporal","title":null},"y":{"datum":9389.4198,"title":null},"text":{"value":"9,389.4198"}}},
  {"mark":{"type":"text","align":"center","baseline":"middle","font":"DejaVu Sans","fontSize":12,"fill":"#8a8a8a","clip":false},
   "encoding":{"x":{"datum":{"year":2020,"month":3,"date":1,"hours":12,"utc":true},"type":"temporal","title":null},"y":{"datum":4532,"title":null},"text":{"value":"≡"}}}
 ]
},
{
 "width":1076,"height":33,
 "data":{"values":[{}]},
 "layer":[
  {"mark":{"type":"rect","fill":"#7cf87c"},
   "encoding":{
    "x":{"datum":{"year":2019,"month":9,"date":30,"hours":3,"minutes":28,"utc":true},"type":"temporal","title":null,
     "scale":{"type":"utc","domain":[{"year":2019,"month":9,"date":30,"hours":3,"minutes":28,"utc":true},{"year":2020,"month":8,"date":1,"hours":20,"minutes":31,"utc":true}],"nice":false,"padding":0},
     "axis":{"title":null,"tickCount":60,"values":[{"year":2019,"month":10,"date":1,"utc":true},{"year":2019,"month":11,"date":1,"utc":true},{"year":2019,"month":12,"date":1,"utc":true},{"year":2020,"month":1,"date":1,"utc":true},{"year":2020,"month":2,"date":1,"utc":true},{"year":2020,"month":3,"date":1,"utc":true},{"year":2020,"month":4,"date":1,"utc":true},{"year":2020,"month":5,"date":1,"utc":true},{"year":2020,"month":6,"date":1,"utc":true},{"year":2020,"month":7,"date":1,"utc":true},{"year":2020,"month":8,"date":1,"utc":true}],"labels":false,"ticks":false,"grid":true,"gridColor":"#dcdcdc"}},
    "x2":{"datum":{"year":2020,"month":7,"date":22,"utc":true}},
    "y":{"datum":70,"type":"quantitative","title":null,"scale":{"domain":[0,104],"nice":false,"zero":false},
     "axis":{"title":null,"orient":"right","values":[0],"format":".4f","tickSize":5,"labelPadding":3,"grid":false}},
    "y2":{"datum":100}}},
  {"mark":{"type":"rect","fill":"#ff7c7c"},
   "encoding":{"x":{"datum":{"year":2019,"month":9,"date":30,"hours":3,"minutes":28,"utc":true},"type":"temporal","title":null},"x2":{"datum":{"year":2020,"month":7,"date":22,"utc":true}},"y":{"datum":0,"title":null},"y2":{"datum":30}}},
  {"mark":{"type":"rule","color":"#000000","strokeWidth":1,"strokeDash":[2,2]},
   "encoding":{"x":{"datum":{"year":2019,"month":9,"date":30,"hours":3,"minutes":28,"utc":true},"type":"temporal","title":null},"x2":{"datum":{"year":2020,"month":7,"date":22,"utc":true}},"y":{"datum":70,"title":null}}},
  {"mark":{"type":"rule","color":"#000000","strokeWidth":1,"strokeDash":[2,2]},
   "encoding":{"x":{"datum":{"year":2019,"month":9,"date":30,"hours":3,"minutes":28,"utc":true},"type":"temporal","title":null},"x2":{"datum":{"year":2020,"month":7,"date":22,"utc":true}},"y":{"datum":30,"title":null}}},
  {"mark":{"type":"rule","color":"#000000","strokeWidth":1},
   "encoding":{"x":{"datum":{"year":2020,"month":7,"date":22,"utc":true},"type":"temporal","title":null},"y":{"datum":70,"title":null},"y2":{"datum":100}}},
  {"mark":{"type":"rule","color":"#000000","strokeWidth":1},
   "encoding":{"x":{"datum":{"year":2020,"month":7,"date":22,"utc":true},"type":"temporal","title":null},"y":{"datum":0,"title":null},"y2":{"datum":30}}},
  {"data":{"name":"rsi"},
   "mark":{"type":"line","color":"#2244ff","strokeWidth":1},
   "encoding":{"x":{"field":"d","type":"temporal","title":null},"y":{"field":"v","type":"quantitative","title":null}}},
  {"mark":{"type":"rect","fill":"#333333","opacity":0.82},
   "encoding":{"x":{"datum":{"year":2019,"month":10,"date":1,"hours":14,"utc":true},"type":"temporal","title":null},"x2":{"datum":{"year":2019,"month":11,"date":2,"hours":5,"utc":true}},"y":{"datum":91.4,"title":null},"y2":{"datum":18.9}}},
  {"mark":{"type":"rect","fill":"#22ee22"},
   "encoding":{"x":{"datum":{"year":2019,"month":10,"date":1,"hours":14,"utc":true},"type":"temporal","title":null},"x2":{"datum":{"year":2019,"month":10,"date":2,"hours":10,"utc":true}},"y":{"datum":91.4,"title":null},"y2":{"datum":18.9}}},
  {"mark":{"type":"text","align":"left","baseline":"middle","font":"Liberation Sans","fontSize":11,"fontWeight":"bold","fill":"#ffffff"},
   "encoding":{"x":{"datum":{"year":2019,"month":10,"date":5,"utc":true},"type":"temporal","title":null},"y":{"datum":55.2,"title":null},"text":{"value":"RSI (14,70,30,1)"}}},
  {"mark":{"type":"text","align":"center","baseline":"middle","font":"DejaVu Sans","fontSize":12,"fill":"#8a8a8a","clip":false},
   "encoding":{"x":{"datum":{"year":2020,"month":3,"date":1,"hours":12,"utc":true},"type":"temporal","title":null},"y":{"datum":-16.7,"title":null},"text":{"value":"≡"}}}
 ]
},
{
 "width":1076,"height":26,
 "data":{"values":[{}]},
 "layer":[
  {"data":{"name":"hist"},
   "transform":[{"filter":"datum.h >= 0"}],
   "mark":{"type":"area","color":"#22dd22","opacity":0.85},
   "encoding":{
    "x":{"field":"d","type":"temporal","title":null,
     "scale":{"type":"utc","domain":[{"year":2019,"month":9,"date":30,"hours":3,"minutes":28,"utc":true},{"year":2020,"month":8,"date":1,"hours":20,"minutes":31,"utc":true}],"nice":false,"padding":0},
     "axis":{"title":null,"tickCount":60,"values":[
      {"year":2019,"month":10,"date":1,"utc":true},{"year":2019,"month":10,"date":10,"utc":true},{"year":2019,"month":10,"date":19,"utc":true},
      {"year":2019,"month":11,"date":1,"utc":true},{"year":2019,"month":11,"date":10,"utc":true},{"year":2019,"month":11,"date":19,"utc":true},
      {"year":2019,"month":12,"date":1,"utc":true},{"year":2019,"month":12,"date":10,"utc":true},{"year":2019,"month":12,"date":19,"utc":true},
      {"year":2020,"month":1,"date":1,"utc":true},{"year":2020,"month":1,"date":10,"utc":true},{"year":2020,"month":1,"date":19,"utc":true},
      {"year":2020,"month":2,"date":1,"utc":true},{"year":2020,"month":2,"date":10,"utc":true},{"year":2020,"month":2,"date":19,"utc":true},
      {"year":2020,"month":3,"date":1,"utc":true},{"year":2020,"month":3,"date":10,"utc":true},{"year":2020,"month":3,"date":19,"utc":true},
      {"year":2020,"month":4,"date":1,"utc":true},{"year":2020,"month":4,"date":10,"utc":true},{"year":2020,"month":4,"date":19,"utc":true},
      {"year":2020,"month":5,"date":1,"utc":true},{"year":2020,"month":5,"date":10,"utc":true},{"year":2020,"month":5,"date":19,"utc":true},
      {"year":2020,"month":6,"date":1,"utc":true},{"year":2020,"month":6,"date":10,"utc":true},{"year":2020,"month":6,"date":19,"utc":true},
      {"year":2020,"month":7,"date":1,"utc":true},{"year":2020,"month":7,"date":10,"utc":true},{"year":2020,"month":7,"date":19,"utc":true},
      {"year":2020,"month":8,"date":1,"utc":true}],
      "labelExpr":"utcdate(datum.value) == 1 ? utcFormat(datum.value, '%b') : '' + utcdate(datum.value)",
      "labelOverlap":false,
      "labelBound":false,
      "labelAlign":{"condition":{"test":"utcyear(datum.value) == 2019 && utcmonth(datum.value) == 9 && utcdate(datum.value) == 1","value":"left"},"value":"center"},
      "gridOpacity":{"condition":{"test":"utcdate(datum.value) == 1","value":1},"value":0},
      "grid":true,"gridColor":"#dcdcdc","ticks":true,"tickSize":4,"labelPadding":3,"labelFontSize":11.5,"labelColor":"#555555"}},
    "y":{"field":"h","type":"quantitative","title":null,"scale":{"domain":[-600,440],"nice":false,"zero":true},
     "axis":{"title":null,"orient":"right","values":[0],"labelExpr":"'-0.0000'","tickSize":5,"labelPadding":3,"grid":true,"gridColor":"#d6d6d6"}}
   }},
  {"data":{"name":"hist"},
   "transform":[{"filter":"datum.h <= 0"}],
   "mark":{"type":"area","color":"#ff2020","opacity":0.85},
   "encoding":{"x":{"field":"d","type":"temporal","title":null},"y":{"field":"h","type":"quantitative","title":null}}},
  {"data":{"name":"macd"},
   "mark":{"type":"line","color":"#2233ee","strokeWidth":1.2,"interpolate":"monotone"},
   "encoding":{"x":{"field":"d","type":"temporal","title":null},"y":{"field":"m","type":"quantitative","title":null}}},
  {"data":{"name":"macd"},
   "mark":{"type":"line","color":"#ff7f1e","strokeWidth":1.2,"interpolate":"monotone"},
   "encoding":{"x":{"field":"d","type":"temporal","title":null},"y":{"field":"s","type":"quantitative","title":null}}},
  {"mark":{"type":"rect","fill":"#333333","opacity":0.82},
   "encoding":{"x":{"datum":{"year":2019,"month":10,"date":1,"hours":14,"utc":true},"type":"temporal","title":null},"x2":{"datum":{"year":2019,"month":11,"date":1,"hours":22,"utc":true}},"y":{"datum":240,"title":null},"y2":{"datum":-600}}},
  {"mark":{"type":"rect","fill":"#1030ff"},
   "encoding":{"x":{"datum":{"year":2019,"month":10,"date":1,"hours":14,"utc":true},"type":"temporal","title":null},"x2":{"datum":{"year":2019,"month":10,"date":2,"hours":10,"utc":true}},"y":{"datum":240,"title":null},"y2":{"datum":-600}}},
  {"mark":{"type":"text","align":"left","baseline":"middle","font":"Liberation Sans","fontSize":11,"fontWeight":"bold","fill":"#ffffff"},
   "encoding":{"x":{"datum":{"year":2019,"month":10,"date":5,"utc":true},"type":"temporal","title":null},"y":{"datum":-180,"title":null},"text":{"value":"MACD (12,26,9)"}}}
 ]
}
]
}
